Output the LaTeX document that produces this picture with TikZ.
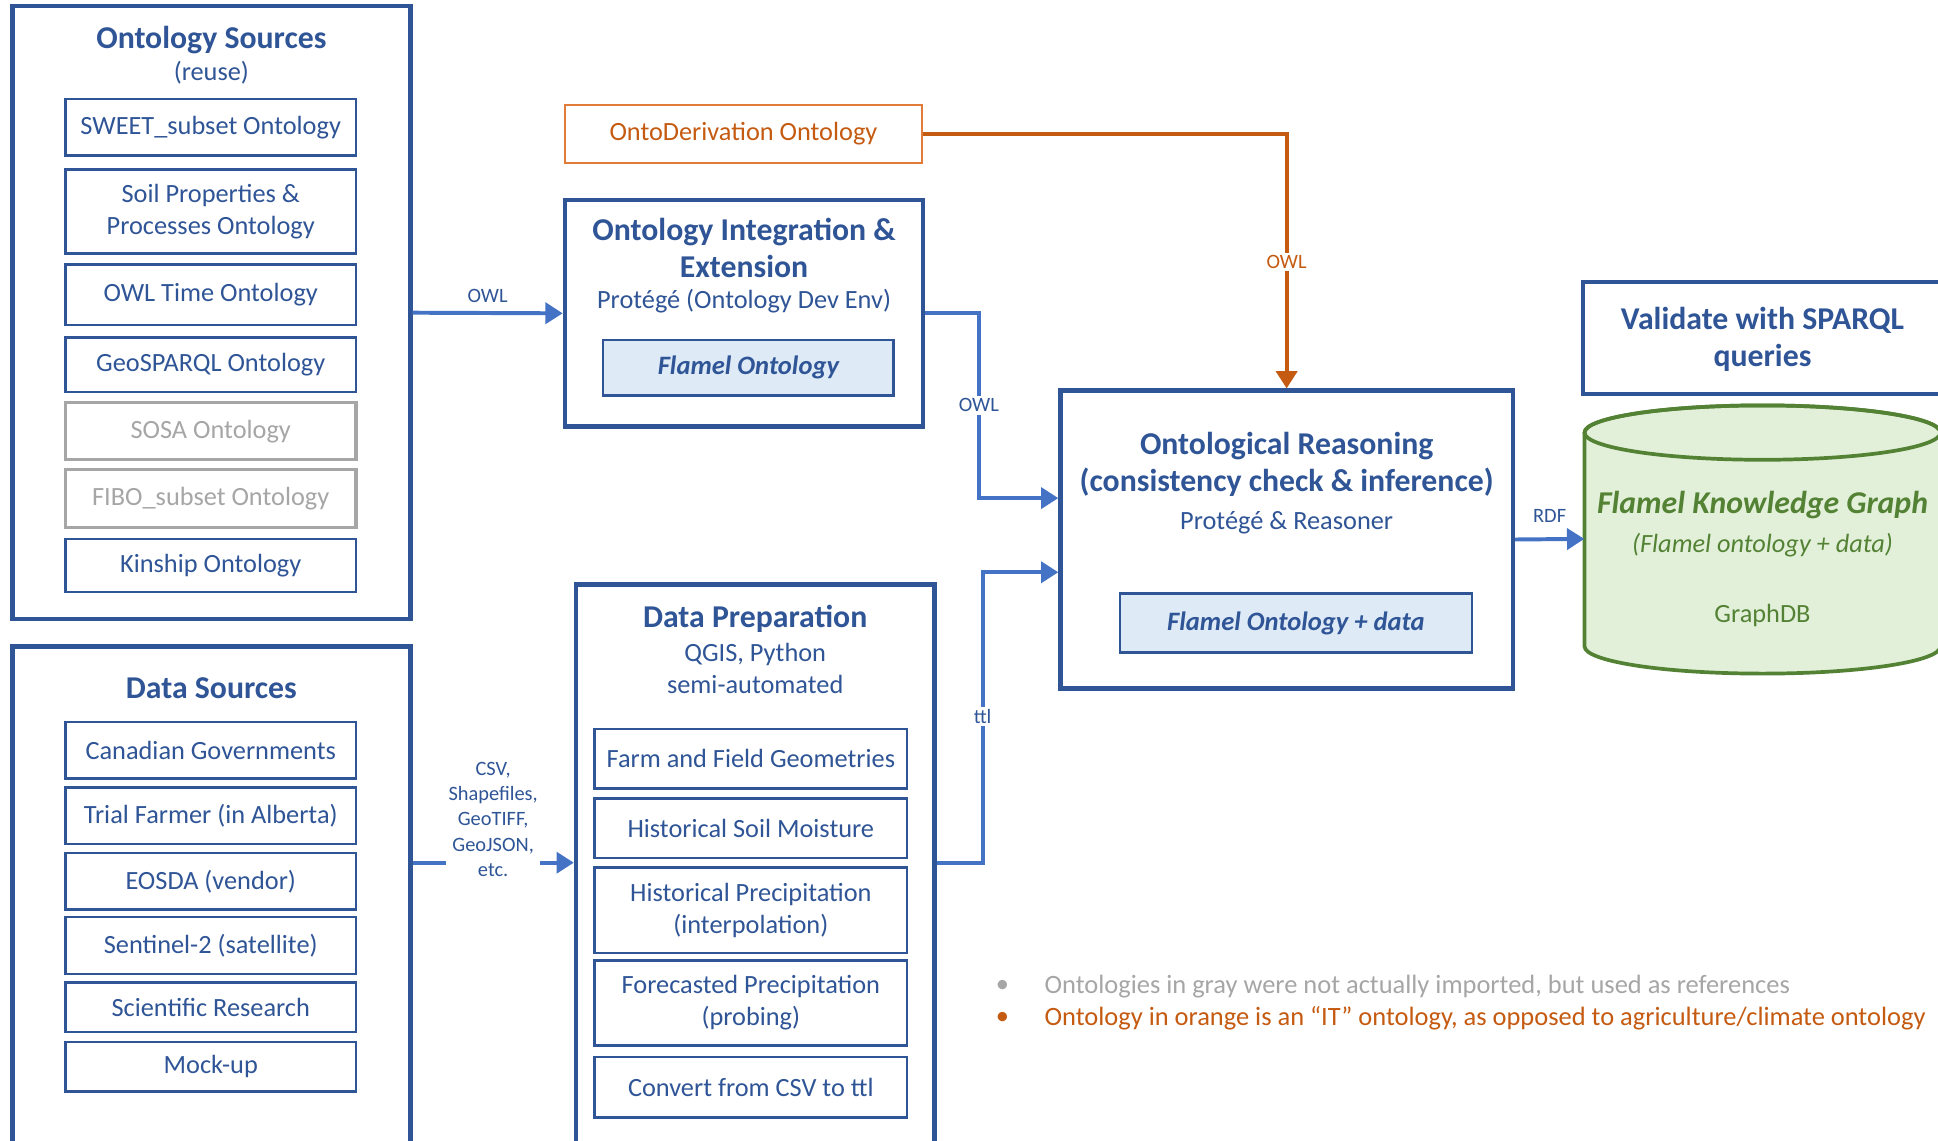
\documentclass[tikz,border=0pt]{standalone}
\usepackage{fontspec}
\setmainfont{Carlito}
\usetikzlibrary{arrows.meta}
\definecolor{dblue}{HTML}{2F5597}
\definecolor{mblue}{HTML}{4472C4}
\definecolor{lblue}{HTML}{DEEBF7}
\definecolor{orng}{HTML}{C55A11}
\definecolor{orngb}{HTML}{E07B39}
\definecolor{grayc}{HTML}{A6A6A6}
\definecolor{grn}{HTML}{548235}
\definecolor{lgrn}{HTML}{E2F0D9}
\tikzset{
  sz/.style 2 args={minimum width=#1pt, minimum height=#2pt},
  obox/.style={draw=dblue, line width=3.5pt, inner sep=0pt},
  htitle/.style={text=dblue, font=\fontsize{25.7}{30}\selectfont\bfseries, align=center, inner sep=0pt},
  btext/.style={text=dblue, font=\fontsize{21.3}{25.5}\selectfont, align=center, inner sep=0pt},
  ibox/.style={draw=dblue, line width=2pt, text=dblue, font=\fontsize{21.3}{26}\selectfont, align=center, inner sep=0pt},
  gbox/.style={ibox, draw=grayc, line width=2.5pt, text=grayc},
  fbox/.style={ibox, fill=lblue, font=\fontsize{21.5}{26}\selectfont\bfseries\itshape},
  lbl/.style={text=dblue, font=\fontsize{16.5}{20.5}\selectfont, align=center, inner sep=2pt},
  conn/.style={draw=mblue, line width=3.2pt, -{Triangle[length=14pt,width=17pt]}},
  oconn/.style={draw=orng, line width=3.2pt, -{Triangle[length=14pt,width=17pt]}},
  legf/.style={font=\fontsize{21.4}{26}\selectfont, inner sep=0pt}
}
\begin{document}
\begin{tikzpicture}[x=1pt,y=-1pt]
\useasboundingbox (0,0) rectangle (1568,923);
\clip (0,0) rectangle (1568,923);
\fill[white] (0,0) rectangle (1568,923);

% ---------- Ontology Sources ----------
\node[obox, sz={322}{496}] (osrc) at (171,253) {};
\node[htitle] (osrcT) at (171,32) {Ontology Sources};
\node[btext] (osrcR) at (171,59) {(reuse)};
\node[ibox, sz={235}{46}] (sweet) at (170.5,103) {SWEET\_subset Ontology};
\node[ibox, sz={235}{68}] (soil) at (170.5,171) {Soil Properties \&\\Processes Ontology};
\node[ibox, sz={235}{49}] (owlt) at (170.5,238.5) {OWL Time Ontology};
\node[ibox, sz={235}{44}] (geo) at (170.5,295) {GeoSPARQL Ontology};
\node[gbox, sz={235}{46}] (sosa) at (170.5,349) {SOSA Ontology};
\node[gbox, sz={235}{47}] (fibo) at (170.5,403.5) {FIBO\_subset Ontology};
\node[ibox, sz={235}{43}] (kin) at (170.5,457.5) {Kinship Ontology};

% ---------- Data Sources ----------
\node[obox, sz={322}{430}] (dsrc) at (171,738) {};
\node[htitle] (dsrcT) at (171,557) {Data Sources};
\node[ibox, sz={235}{46}] (cgov) at (170.5,607) {Canadian Governments};
\node[ibox, sz={235}{46}] (trial) at (170.5,660) {Trial Farmer (in Alberta)};
\node[ibox, sz={235}{46}] (eosda) at (170.5,713) {EOSDA (vendor)};
\node[ibox, sz={235}{46}] (sent) at (170.5,765) {Sentinel-2 (satellite)};
\node[ibox, sz={235}{40}] (sci) at (170.5,815) {Scientific Research};
\node[ibox, sz={235}{40}] (mock) at (170.5,863) {Mock-up};

% ---------- OntoDerivation ----------
\node[draw=orngb, line width=2pt, text=orng, font=\fontsize{21.3}{26}\selectfont, sz={289}{47}, inner sep=0pt] (onto) at (601.5,108.5) {OntoDerivation Ontology};

% ---------- Integration ----------
\node[obox, sz={290}{183}] (integ) at (602,253.5) {};
\node[htitle] (integT) at (602,200.5) {Ontology Integration \&\\Extension};
\node[btext] (integS) at (602,244) {Protégé (Ontology Dev Env)};
\node[fbox, sz={235}{45}] (flo) at (605.5,297.5) {Flamel Ontology};

% ---------- Data Preparation ----------
\node[obox, sz={290}{480}] (prep) at (611,713) {};
\node[htitle] (prepT) at (611,501) {Data Preparation};
\node[btext] (prepS) at (611,541) {QGIS, Python\\semi-automated};
\node[ibox, sz={253}{48}] (farm) at (607.5,614) {Farm and Field Geometries};
\node[ibox, sz={253}{48}] (hsm) at (607.5,670) {Historical Soil Moisture};
\node[ibox, sz={253}{69}] (hpr) at (607.5,736.5) {Historical Precipitation\\(interpolation)};
\node[ibox, sz={253}{69}] (fpr) at (607.5,811.5) {Forecasted Precipitation\\(probing)};
\node[ibox, sz={253}{49}] (conv) at (607.5,879.5) {Convert from CSV to ttl};

% ---------- Reasoning ----------
\node[obox, sz={366}{241}] (reason) at (1041,436.5) {};
\node[htitle] (reasonT) at (1041,376) {Ontological Reasoning\\(consistency check \& inference)};
\node[btext] (reasonS) at (1041,423) {Protégé \& Reasoner};
\node[fbox, sz={285}{48}] (flod) at (1048.5,504) {Flamel Ontology + data};

% ---------- Validate ----------
\node[obox, sz={290}{91}] (valid) at (1426,273.5) {};
\node[htitle] (validT) at (1426,274.5) {Validate with SPARQL\\queries};

% ---------- Knowledge graph cylinder ----------
\path[draw=grn, fill=lgrn, line width=3pt] (1282,350) -- (1282,523)
  arc[start angle=180, end angle=0, x radius=144, y radius=22] -- (1570,350)
  arc[start angle=0, end angle=-180, x radius=144, y radius=22] -- cycle;
\draw[grn, line width=3pt] (1426,350) ellipse [x radius=144, y radius=22];
\node[sz={288}{217}, inner sep=0pt] (kg) at (1426,436) {};
\node[text=grn, font=\fontsize{25.7}{30}\selectfont\bfseries\itshape, inner sep=0pt] (kgT) at (1426,409) {Flamel Knowledge Graph};
\node[text=grn, font=\fontsize{21.3}{26}\selectfont\itshape, inner sep=0pt] (kgS) at (1426,441) {(Flamel ontology + data)};
\node[text=grn, font=\fontsize{21.3}{26}\selectfont, inner sep=0pt] (kgD) at (1426,498) {GraphDB};

% ---------- Connectors ----------
\draw[conn] (osrc.east) -- (integ.west) node[midway, above=5pt, lbl] {OWL};
\draw[conn] ([yshift=40pt]dsrc.east) -- ([yshift=15pt]prep.west)
  node[midway, yshift=35pt, lbl, fill=white] {CSV,\\Shapefiles,\\GeoTIFF,\\GeoJSON,\\etc.};
\draw[conn] (integ.east) -| (792,328) |- ([yshift=33.5pt]reason.west);
\node[lbl, fill=white] (owl2) at (792,328) {OWL};
\draw[conn] ([yshift=15pt]prep.east) -| (795,580) |- ([yshift=-26.5pt]reason.west);
\node[lbl, fill=white] (ttl) at (795,580) {ttl};
\draw[oconn] (onto.east) -| (reason.north);
\node[lbl, fill=white, text=orng] (owl3) at (1041,212) {OWL};
\draw[conn] (reason.east) -- (kg.west) node[midway, above=10pt, lbl] {RDF};

% ---------- Legend ----------
\node[legf, text=grayc] (b1) at (811,798) {•};
\node[legf, text=grayc, anchor=west] (leg1) at (845,798) {Ontologies in gray were not actually imported, but used as references};
\node[legf, text=orng] (b2) at (811,824) {•};
\node[legf, text=orng, anchor=west] (leg2) at (845,824) {Ontology in orange is an “IT” ontology, as opposed to agriculture/climate ontology};
\end{tikzpicture}
\end{document}
